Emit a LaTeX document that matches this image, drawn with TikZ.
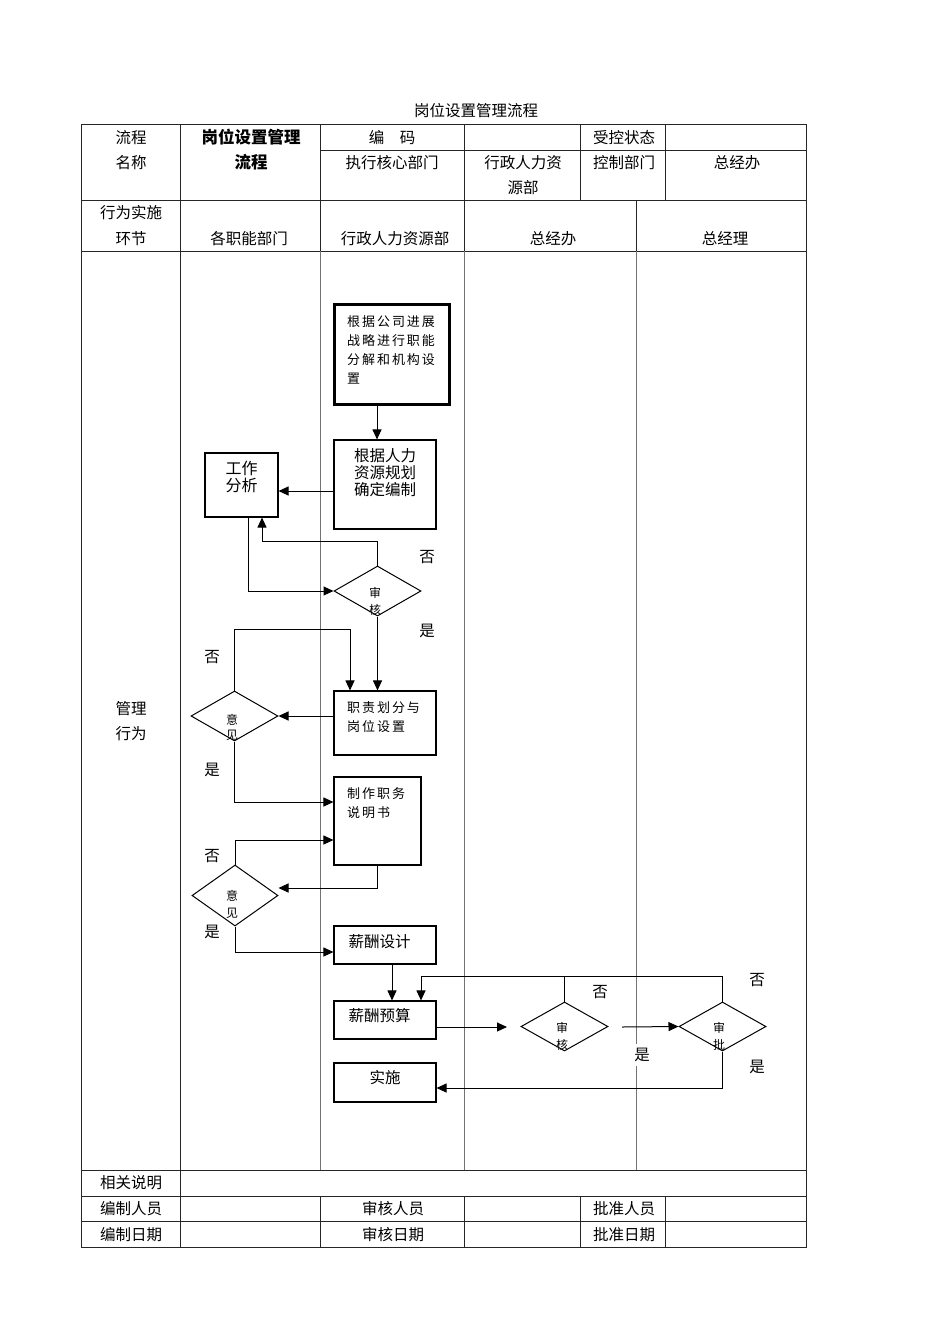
\documentclass[tikz,border=0pt]{standalone}
\usepackage{fontspec}
\setmainfont{Noto Sans CJK SC}
\newfontfamily\spacedcjk[LetterSpace=15]{Noto Sans CJK SC}
\usetikzlibrary{arrows.meta,shapes.geometric,calc}
\begin{document}
\begin{tikzpicture}[x=1pt,y=-1pt,
  rule/.style={line width=0.9pt, black!85},
  lane/.style={line width=0.8pt, black!55},
  cell/.style={inner sep=0pt, font=\fontsize{15.5}{18}\selectfont},
  bold cell/.style={inner sep=0pt, font=\bfseries\fontsize{16.5}{18}\selectfont},
  box/.style={draw, line width=1.1pt, inner sep=0pt},
  dmd/.style={draw, diamond, line width=1pt, inner sep=0pt, minimum width=87pt},
  boxtxt/.style={inner sep=0pt, align=center, font=\fontsize{15.5}{17}\selectfont},
  spaced/.style={inner sep=0pt, align=left, anchor=west, font=\spacedcjk\fontsize{13}{19}\selectfont},
  dtxt/.style={inner sep=0pt, align=center, font=\fontsize{12}{16.5}\selectfont},
  yn/.style={inner sep=0pt, font=\fontsize{15.5}{18}\selectfont},
  flow/.style={line width=1pt, -{Triangle[length=10pt,width=9pt]}},
  link/.style={line width=1pt},
]
\useasboundingbox[fill=white] (0,0) rectangle (950,1344);

% ---------- title ----------
\node[cell] (title) at (476,111) {岗位设置管理流程};

% ---------- table frame ----------
\draw[rule] (81,124) rectangle (806,1247);
\draw[rule] (320,150) -- (806,150);
\draw[rule] (81,200) -- (806,200);
\draw[rule] (81,251) -- (806,251);
\draw[rule] (81,1170) -- (806,1170);
\draw[rule] (81,1196) -- (806,1196);
\draw[rule] (81,1221) -- (806,1221);
\draw[rule] (180,124) -- (180,1247);
\draw[rule] (320,124) -- (320,251);
\draw[rule] (464,124) -- (464,251);
\draw[rule] (580,124) -- (580,200);
\draw[rule] (665,124) -- (665,200);
\draw[rule] (636,200) -- (636,251);
\draw[rule] (320,1196) -- (320,1247);
\draw[rule] (464,1196) -- (464,1247);
\draw[rule] (580,1196) -- (580,1247);
\draw[rule] (665,1196) -- (665,1247);
% swimlane separators
\draw[lane] (320,251) -- (320,1170);
\draw[lane] (464,251) -- (464,1170);
\draw[lane] (636,251) -- (636,1170);

% ---------- header texts ----------
\node[cell] (h1) at (131,137.5) {流程};
\node[cell] (h2) at (131,162.5) {名称};
\node[bold cell] (h3) at (251,137.5) {岗位设置管理};
\node[bold cell] (h4) at (251,162.5) {流程};
\node[cell] (h5) at (392,137.5) {编\quad 码};
\node[cell] (h6) at (624,137.5) {受控状态};
\node[cell] (h7) at (392,162.5) {执行核心部门};
\node[cell] (h8) at (523,162.5) {行政人力资};
\node[cell] (h9) at (523,187.5) {源部};
\node[cell] (h10) at (624,162.5) {控制部门};
\node[cell] (h11) at (737,162.5) {总经办};
\node[cell] (h12) at (131,213) {行为实施};
\node[cell] (h13) at (131,238.5) {环节};
\node[cell] (h14) at (249,238.5) {各职能部门};
\node[cell] (h15) at (395,238.5) {行政人力资源部};
\node[cell] (h16) at (553,238.5) {总经办};
\node[cell] (h17) at (725,238.5) {总经理};
\node[cell] (h18) at (131,709) {管理};
\node[cell] (h19) at (131,734) {行为};

% ---------- footer texts ----------
\node[cell] (f1) at (131,1183) {相关说明};
\node[cell] (f2) at (131,1209) {编制人员};
\node[cell] (f3) at (393,1209) {审核人员};
\node[cell] (f4) at (624,1209) {批准人员};
\node[cell] (f5) at (131,1234.5) {编制日期};
\node[cell] (f6) at (393,1234.5) {审核日期};
\node[cell] (f7) at (624,1234.5) {批准日期};

% ---------- process boxes ----------
\node[box, line width=3pt, minimum width=115pt, minimum height=100pt] (b1) at (392,354.5) {};
\node[spaced] (b1t) at (347,349.5) {根据公司进展\\战略进行职能\\分解和机构设\\置};

\node[box, minimum width=102pt, minimum height=89pt] (b2) at (385,484.5) {};
\node[boxtxt] (b2t) at (385,472.5) {根据人力\\资源规划\\确定编制};

\node[box, minimum width=73pt, minimum height=64pt] (gz) at (241.5,485) {};
\node[boxtxt, font=\fontsize{16}{16.5}\selectfont] (gzt) at (241.5,477) {工作\\分析};

\node[dmd, minimum height=50pt] (d1) at (377.5,591) {};
\node[dtxt] (d1t) at (375,601.5) {审\\核};

\node[box, minimum width=102pt, minimum height=64pt] (zz) at (385,723) {};
\node[spaced] (zzt) at (347,717) {职责划分与\\岗位设置};

\node[dmd, minimum height=50pt] (dy1) at (234.5,716) {};
\node[dtxt, font=\fontsize{12}{15}\selectfont] (dy1t) at (232,727.5) {意\\见};

\node[box, minimum width=87pt, minimum height=88pt] (zd) at (377.5,821) {};
\node[spaced] (zdt) at (347,803) {制作职务\\说明书};

\node[dmd, minimum width=86pt, minimum height=61pt] (dy2) at (235,895.5) {};
\node[dtxt] (dy2t) at (232,904.5) {意\\见};

\node[box, minimum width=102pt, minimum height=38pt] (xc) at (385,945) {};
\node[boxtxt] (xct) at (379.5,942) {薪酬设计};

\node[box, minimum width=102pt, minimum height=38pt] (ys) at (385,1020) {};
\node[boxtxt] (yst) at (379.5,1016) {薪酬预算};

\node[dmd, minimum height=49pt] (d3) at (564.5,1026.5) {};
\node[dtxt] (d3t) at (562,1036.5) {审\\核};

\node[dmd, minimum height=49pt] (d4) at (722.5,1026.5) {};
\node[dtxt] (d4t) at (719,1036.5) {审\\批};

\node[box, minimum width=102pt, minimum height=39pt] (ss) at (385,1082.5) {};
\node[boxtxt] (sst) at (385,1078) {实施};

% ---------- connectors ----------
\coordinate (c1) at (262,541);
\coordinate (c2) at (350,629);
\coordinate (c4) at (421,976);
\coordinate (g1) at (507,1027);
\coordinate (g2) at (622,1027);

\draw[flow] ([xshift=-15pt]b1.south) -- ([xshift=-15pt]b1.south |- b2.north);
\draw[flow] ([yshift=-6.5pt]b2.west) -- ([yshift=-6.5pt]b2.west -| gz.east);
\draw[flow] (d1.north) |- (c1) -- (c1 |- gz.south);
\draw[flow] ([xshift=6.5pt]gz.south) |- (d1.west);
\draw[flow] (d1.south) -- (d1.south |- zz.north);
\draw[flow] (zz.west |- dy1.east) -- (dy1.east);
\draw[flow] (dy1.north) |- (c2) -- (c2 |- zz.north);
\draw[flow] (dy1.south) |- ([yshift=19pt]zd.west);
\draw[flow] (zd.south) |- ([yshift=7.5pt]dy2.east);
\draw[flow] (dy2.north) |- ([yshift=-19pt]zd.west);
\draw[flow] (dy2.south) |- ([yshift=-7pt]xc.west);
\draw[flow] ([xshift=7pt]xc.south) -- ([xshift=7pt]xc.south |- ys.north);
\draw[flow] (ys.east |- g1) -- (g1);
\draw[flow] (d4.north) |- (c4) -- (c4 |- ys.north);
\draw[link] (d3.north) -- (d3.north |- c4);
\draw[flow] (g2) -- (d4.west);
\draw[flow] (d4.south) |- ([yshift=-5.5pt]ss.east);

% ---------- decision labels ----------
\node[yn] (n1) at (427,557) {否};
\node[yn] (y1) at (427,631) {是};
\node[yn] (n2) at (212,657) {否};
\node[yn] (y2) at (212,770) {是};
\node[yn] (n3) at (212,856) {否};
\node[yn] (y3) at (212,932) {是};
\node[yn] (n4) at (600,992) {否};
\node[yn, fill=white, inner sep=4pt] (y4) at (642,1055) {是};
\node[yn] (n5) at (757,980) {否};
\node[yn] (y5) at (757,1067) {是};
\end{tikzpicture}
\end{document}
